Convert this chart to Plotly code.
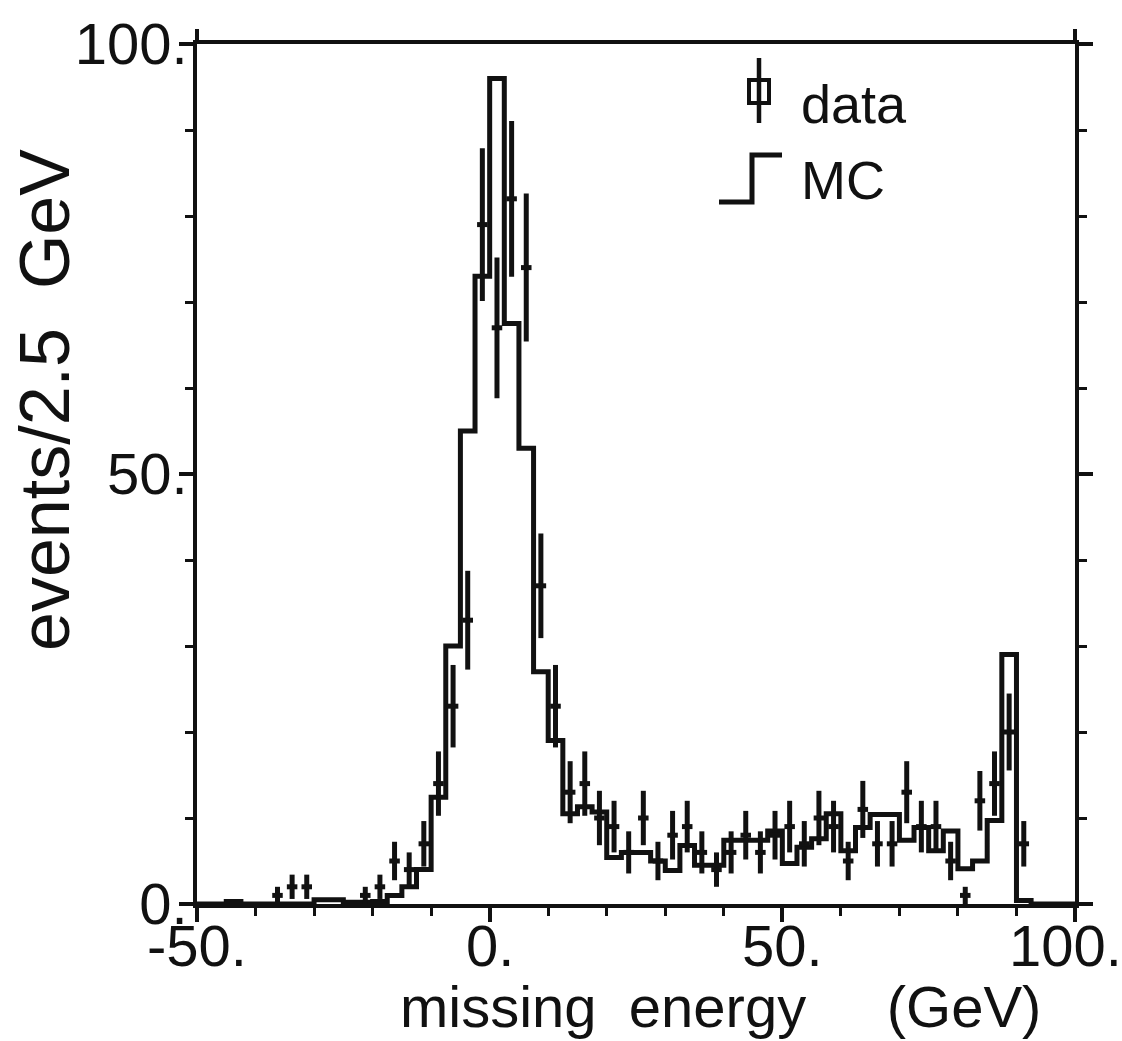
import numpy as np
import plotly.graph_objects as go

# ---- data ----
bin_width = 2.5
x_min, x_max = -50.0, 100.0

# MC histogram contents, bins of 2.5 GeV starting at -50
mc_counts = [
    0, 0, 0.3, 0, 0, 0, 0, 0, 0.5, 0.5,
    0.2, 0.2, 0.3, 1.0, 2.0, 4.0, 12.4, 30, 55, 73,
    96, 67.5, 53, 27, 19, 10.5, 11.3, 10.7, 5.4, 6.0,
    6.0, 5.0, 3.9, 6.8, 4.5, 4.5, 7.4, 7.4, 7.4, 8.5,
    4.7, 6.6, 7.6, 10.5, 6.2, 8.9, 10.4, 10.4, 7.4, 8.9,
    6.2, 8.5, 4.1, 5.0, 9.7, 29, 0.4, 0, 0, 0,
]

# data counts per 2.5 GeV bin (same binning)
data_counts = [
    0, 0, 0, 0, 0, 1, 2, 2, 0, 0,
    0, 1, 2, 5, 4, 7, 14, 23, 33, 79,
    67, 82, 74, 37, 23, 13, 14, 10, 9, 6,
    10, 5, 8, 9, 6, 4, 6, 8, 6, 8,
    9, 7, 10, 9, 5, 11, 7, 7, 13, 9,
    9, 5, 1, 12, 14, 20, 7, 0, 0, 0,
]

x_tick_vals = [-50, 0, 50, 100]
x_tick_text = ["-50.", "0.", "50.", "100."]
y_tick_vals = [0, 50, 100]
y_tick_text = ["0.", "50.", "100."]

# ---- derived ----
edges = [x_min + bin_width * i for i in range(len(mc_counts) + 1)]
mc_x = edges
mc_y = list(mc_counts) + [mc_counts[-1]]

centers = [x_min + bin_width * (i + 0.5) for i in range(len(data_counts))]
dx = [c for c, n in zip(centers, data_counts) if n > 0]
dy = [n for n in data_counts if n > 0]
derr = [float(np.sqrt(n)) for n in dy]

FONT = "Liberation Sans, Arial, sans-serif"
BLACK = "#111111"

fig = go.Figure()

fig.add_trace(go.Scatter(
    x=mc_x, y=mc_y, mode="lines", line=dict(shape="hv", color=BLACK, width=5),
    name="MC", showlegend=False, hoverinfo="skip",
))

fig.add_trace(go.Scatter(
    x=dx, y=dy, mode="markers",
    marker=dict(size=1, color=BLACK, opacity=0),
    error_y=dict(type="data", array=derr, visible=True, width=0, thickness=5, color=BLACK),
    error_x=dict(type="constant", value=0.9, visible=True, width=0, thickness=5, color=BLACK),
    name="data", showlegend=False,
))

# invisible helper trace so the top axis (corner ticks only) is drawn
fig.add_trace(go.Scatter(
    x=[x_min, x_max], y=[0, 0], xaxis="x2", mode="markers",
    marker=dict(size=1, opacity=0), showlegend=False, hoverinfo="skip",
))

# plot area geometry in pixels (for legend decoration placement)
L, R, T, B = 197, 1075, 44, 904
W, H = 1122, 1041


def px(xp):
    return (xp - L) / (R - L)


def py(yp):
    return (B - yp) / (B - T)


shapes = []
# legend symbol for data: vertical line with a small box
shapes.append(dict(type="line", xref="paper", yref="paper",
                   x0=px(759), x1=px(759), y0=py(58), y1=py(123),
                   line=dict(color=BLACK, width=4.5)))
shapes.append(dict(type="rect", xref="paper", yref="paper",
                   x0=px(749), x1=px(769), y0=py(80), y1=py(103),
                   line=dict(color=BLACK, width=4)))
# legend symbol for MC: a step
path = "M {a},{b} L {c},{b} L {c},{d} L {e},{d}".format(
    a=px(719), b=py(202), c=px(752), d=py(155), e=px(782))
shapes.append(dict(type="path", xref="paper", yref="paper", path=path,
                   line=dict(color=BLACK, width=5)))

tick_font = dict(family=FONT, size=58, color=BLACK)

annotations = [
    dict(text="data", xref="paper", yref="paper", x=px(799), y=py(104),
         xanchor="left", yanchor="middle", showarrow=False,
         font=dict(family=FONT, size=54, color=BLACK)),
    dict(text="MC", xref="paper", yref="paper", x=px(799), y=py(180),
         xanchor="left", yanchor="middle", showarrow=False,
         font=dict(family=FONT, size=54, color=BLACK)),
    dict(text="missing\u00a0 energy\u00a0\u00a0\u00a0\u00a0\u00a0(GeV)", xref="paper", yref="paper",
         x=px(720), y=py(1006), xanchor="center", yanchor="middle", showarrow=False,
         font=dict(family=FONT, size=58, color=BLACK)),
    dict(text="events/2.5\u00a0 GeV", xref="paper", yref="paper", textangle=-90,
         x=px(45), y=py(400), xanchor="center", yanchor="middle", showarrow=False,
         font=dict(family=FONT, size=70, color=BLACK)),
]

# x tick labels placed at the tick values (last one nudged to stay in the page)
for v, t in zip(x_tick_vals, x_tick_text):
    annotations.append(dict(
        text=t, xref="x", yref="paper", x=v, y=py(946),
        xanchor="center", yanchor="middle", showarrow=False,
        xshift=-10 if v == x_max else 0, font=tick_font,
    ))

fig.update_layout(
    width=W, height=H,
    margin=dict(l=L, r=W - R, t=T, b=H - B, pad=0, autoexpand=False),
    paper_bgcolor="white", plot_bgcolor="white",
    showlegend=False,
    xaxis=dict(range=[x_min, x_max], tickmode="array", tickvals=x_tick_vals,
               showticklabels=False, automargin=False,
               showgrid=False, zeroline=False, showline=True, linewidth=3.5,
               linecolor=BLACK, mirror=True, ticks="outside", ticklen=14,
               tickwidth=3.5, tickcolor=BLACK,
               minor=dict(ticks="outside", ticklen=8, tickwidth=3, tickcolor=BLACK,
                          dtick=10, tick0=0, showgrid=False)),
    xaxis2=dict(range=[x_min, x_max], overlaying="x", side="top", automargin=False,
                tickmode="array", tickvals=[x_min, x_max], showticklabels=False,
                ticks="outside", ticklen=14, tickwidth=3.5, tickcolor=BLACK,
                showline=False, showgrid=False, zeroline=False),
    yaxis=dict(range=[0, 100], tickmode="array", tickvals=y_tick_vals,
               ticktext=y_tick_text, tickfont=tick_font, automargin=False,
               showgrid=False, zeroline=False, showline=True, linewidth=3.5,
               linecolor=BLACK, mirror="ticks", ticks="outside", ticklen=14,
               tickwidth=3.5, tickcolor=BLACK, ticklabelstandoff=-20,
               minor=dict(ticks="outside", ticklen=8, tickwidth=3, tickcolor=BLACK,
                          dtick=10, tick0=0, showgrid=False)),
    shapes=shapes,
    annotations=annotations,
)

fig.write_html("out.html")
